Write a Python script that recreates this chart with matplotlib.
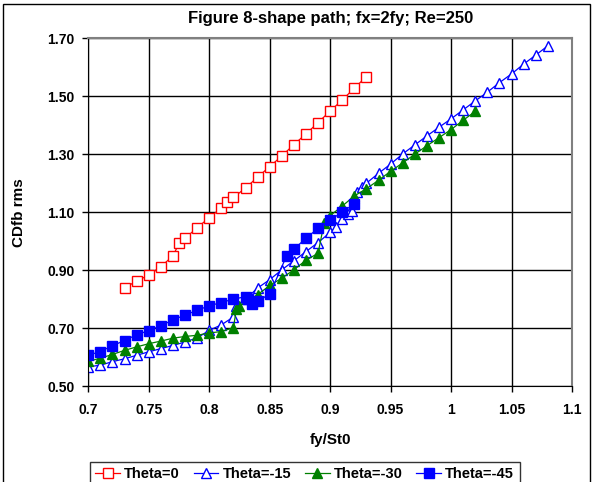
import matplotlib.pyplot as plt
from matplotlib.patches import Rectangle

plt.rcParams["font.family"] = ["Liberation Sans", "DejaVu Sans"]
plt.rcParams["font.weight"] = "bold"

# Theta = 0
x_t0 = [0.73, 0.74, 0.75, 0.76, 0.77, 0.775, 0.78, 0.79, 0.80, 0.81, 0.815, 0.82,
        0.83, 0.84, 0.85, 0.86, 0.87, 0.88, 0.89, 0.90, 0.91, 0.92, 0.93]
y_t0 = [0.839, 0.862, 0.883, 0.912, 0.949, 0.992, 1.010, 1.046, 1.081, 1.114, 1.134, 1.151,
        1.183, 1.221, 1.257, 1.294, 1.333, 1.370, 1.409, 1.449, 1.487, 1.528, 1.568]

# Theta = -15
x_t15 = [0.70, 0.71, 0.72, 0.73, 0.74, 0.75, 0.76, 0.77, 0.78, 0.79, 0.80, 0.81, 0.82,
         0.822, 0.83, 0.84, 0.85, 0.86, 0.87, 0.88, 0.89, 0.90, 0.905, 0.91, 0.915,
         0.918, 0.92, 0.922, 0.926, 0.93, 0.94, 0.95, 0.96, 0.97, 0.98, 0.99, 1.00,
         1.01, 1.02, 1.03, 1.04, 1.05, 1.06, 1.07, 1.08]
y_t15 = [0.566, 0.572, 0.584, 0.594, 0.606, 0.618, 0.629, 0.640, 0.652, 0.666, 0.692, 0.711, 0.738,
         0.775, 0.800, 0.838, 0.867, 0.901, 0.932, 0.964, 0.995, 1.030, 1.050, 1.075, 1.093,
         1.105, 1.150, 1.170, 1.187, 1.200, 1.234, 1.266, 1.301, 1.332, 1.363, 1.393, 1.422,
         1.453, 1.484, 1.514, 1.547, 1.577, 1.611, 1.642, 1.674]

# Theta = -30
x_t30 = [0.70, 0.71, 0.72, 0.73, 0.74, 0.75, 0.76, 0.77, 0.78, 0.79, 0.80, 0.81, 0.82,
         0.8225, 0.825, 0.84, 0.85, 0.86, 0.87, 0.88, 0.89, 0.895, 0.90, 0.91, 0.92,
         0.93, 0.94, 0.95, 0.96, 0.97, 0.98, 0.99, 1.00, 1.01, 1.02]
y_t30 = [0.585, 0.596, 0.609, 0.623, 0.635, 0.646, 0.655, 0.665, 0.671, 0.675, 0.683, 0.688, 0.701,
         0.766, 0.776, 0.815, 0.847, 0.872, 0.901, 0.934, 0.958, 1.062, 1.088, 1.121, 1.156,
         1.181, 1.210, 1.241, 1.270, 1.300, 1.329, 1.357, 1.385, 1.417, 1.448]

# Theta = -45
x_t45 = [0.70, 0.71, 0.72, 0.73, 0.74, 0.75, 0.76, 0.77, 0.78, 0.79, 0.80, 0.81, 0.82,
         0.83, 0.832, 0.835, 0.84, 0.85, 0.864, 0.87, 0.88, 0.89, 0.90, 0.91, 0.92]
y_t45 = [0.606, 0.619, 0.639, 0.657, 0.677, 0.691, 0.708, 0.728, 0.745, 0.761, 0.777, 0.788, 0.800,
         0.808, 0.799, 0.783, 0.793, 0.817, 0.949, 0.972, 1.010, 1.044, 1.073, 1.100, 1.129]

x_ticks = [0.7, 0.75, 0.8, 0.85, 0.9, 0.95, 1.0, 1.05, 1.1]
x_ticklabels = ["0.7", "0.75", "0.8", "0.85", "0.9", "0.95", "1", "1.05", "1.1"]
y_ticks = [0.5, 0.7, 0.9, 1.1, 1.3, 1.5, 1.7]
y_ticklabels = ["0.50", "0.70", "0.90", "1.10", "1.30", "1.50", "1.70"]

fig = plt.figure(figsize=(5.94, 4.82), dpi=100)
ax = fig.add_axes([88.3 / 594, 1 - 386 / 482, (572 - 88.3) / 594, (386 - 38.3) / 482])

ax.plot(x_t0, y_t0, color="#FF0000", lw=0.9, marker="s", ms=6.5, mfc="white",
        mec="#FF0000", mew=1.0, label="Theta=0")
ax.plot(x_t15, y_t15, color="#0000FF", lw=0.9, marker="^", ms=7.5, mfc="white",
        mec="#0000FF", mew=1.0, label="Theta=-15")
ax.plot(x_t30, y_t30, color="#008000", lw=0.9, marker="^", ms=7.5, mfc="#008000",
        mec="#008000", mew=1.0, label="Theta=-30")
ax.plot(x_t45, y_t45, color="#0000FF", lw=0.9, marker="s", ms=6.5, mfc="#0000FF",
        mec="#0000FF", mew=1.0, label="Theta=-45")

ax.set_xlim(0.7, 1.1)
ax.set_ylim(0.5, 1.7)
ax.set_xticks(x_ticks)
ax.set_xticklabels(x_ticklabels)
ax.set_yticks(y_ticks)
ax.set_yticklabels(y_ticklabels)
ax.tick_params(axis="x", direction="out", length=4, width=1, labelsize=10, pad=8)
ax.tick_params(axis="y", direction="out", length=4, width=1, labelsize=10, pad=6)
ax.grid(True, color="black", lw=1.0)
ax.set_axisbelow(True)
for side in ["left", "bottom"]:
    ax.spines[side].set_color("black")
for side in ["top", "right"]:
    ax.spines[side].set_color("#808080")
    ax.spines[side].set_linewidth(1.5)

ax.set_title("Figure 8-shape path; fx=2fy; Re=250", fontsize=12, fontweight="bold", pad=11)
ax.set_xlabel("fy/St0", fontsize=11, fontweight="bold", labelpad=12)
ax.set_ylabel("CDfb rms", fontsize=11, fontweight="bold", labelpad=15)

leg = fig.legend(loc="upper left", bbox_to_anchor=(89.5 / 594, 1 - 461.5 / 482), ncol=4,
                 fontsize=10.5, frameon=True, fancybox=False, edgecolor="black",
                 handlelength=1.7, handletextpad=0.27, columnspacing=0.95,
                 borderpad=0.4, borderaxespad=0.0)
leg.get_frame().set_linewidth(1.0)

# chart frame around the whole figure
fig.patches.append(Rectangle((3 / 594, -0.05), 587 / 594, 1.05 - 3.5 / 482,
                             transform=fig.transFigure, fill=False,
                             edgecolor="black", lw=1.0))

fig.savefig("out.png", dpi=100)
